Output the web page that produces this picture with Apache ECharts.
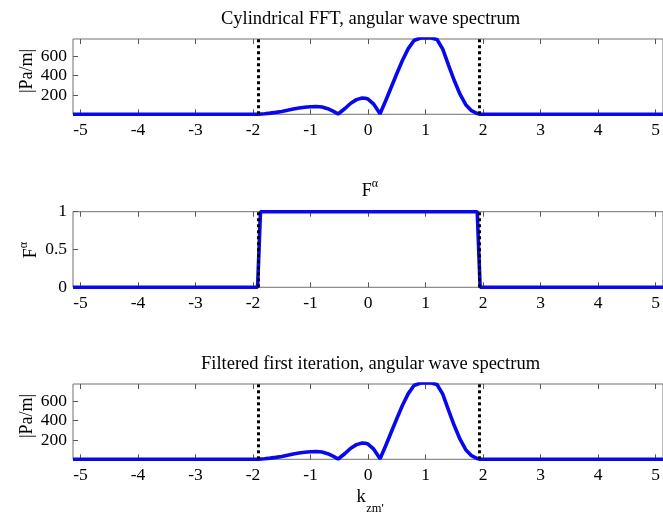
<!DOCTYPE html>
<html>
<head>
<meta charset="utf-8">
<script src="https://cdn.jsdelivr.net/npm/echarts@6/dist/echarts.min.js"></script>
<style>
html,body{margin:0;padding:0;background:#fff;}
#chart{width:663px;height:519px;}
</style>
</head>
<body>
<div id="chart"></div>
<script>
// ---- data ----
const kValues = [-5.13, -1.9, -1.8, -1.7, -1.6, -1.5, -1.4, -1.3, -1.2, -1.1, -1.0, -0.9, -0.8, -0.7, -0.6, -0.52,
  -0.4, -0.3, -0.2, -0.1, -0.05, 0.0, 0.1, 0.21, 0.3, 0.4, 0.5, 0.6, 0.7, 0.8, 0.9, 1.0, 1.1, 1.2, 1.3, 1.4,
  1.5, 1.6, 1.7, 1.8, 1.9, 1.95, 5.13];
const spectrumValues = [0, 2, 6, 12, 20, 30, 42, 54, 65, 73, 78, 80, 75, 58, 30, 3,
  60, 115, 152, 168, 166, 158, 105, 5, 130, 275, 420, 560, 680, 765, 788, 793, 790, 775, 675, 510,
  350, 208, 100, 38, 8, 0, 0];
const filteredValues = [0, 2, 6, 12, 20, 30, 42, 54, 65, 73, 78, 80, 75, 58, 30, 3,
  60, 115, 152, 168, 166, 158, 105, 5, 130, 275, 420, 560, 680, 765, 788, 793, 790, 775, 675, 510,
  350, 208, 100, 38, 8, 0, 0];
const filterK = [-5.13, -1.92, -1.87, 1.90, 1.95, 5.13];
const filterValues = [0, 0, 1, 1, 0, 0];
const cutoffs = [-1.9, 1.93];
const xTickValues = [-5, -4, -3, -2, -1, 0, 1, 2, 3, 4, 5];
const specTickLabels = [200, 400, 600];
const specTicks = [0, 200, 400, 600];
const filterTicks = [0, 0.5, 1];
const titles = ['Cylindrical FFT, angular wave spectrum', 'F^α', 'Filtered first iteration, angular wave spectrum'];

// ---- chart ----
const FONT = '"Liberation Serif", "Times New Roman", serif';
const BLUE = '#0808ee';
const chart = echarts.init(document.getElementById('chart'), null, {renderer: 'canvas'});

const grids = [
  {left: 73, top: 39, width: 595, height: 75.3},
  {left: 73, top: 211.7, width: 595, height: 75.6},
  {left: 73, top: 384, width: 595, height: 75.3}
].map(g => Object.assign(g, {show: true, borderColor: '#707070', borderWidth: 1, backgroundColor: '#fff'}));

const xAxes = [];
const yAxes = [];
for (let i = 0; i < 3; i++) {
  xAxes.push({
    type: 'value', gridIndex: i, position: 'bottom', min: -5.13, max: 5.13,
    axisLine: {show: false, onZero: false}, splitLine: {show: false},
    axisTick: {show: true, inside: true, length: 5, customValues: xTickValues, lineStyle: {color: '#555'}},
    axisLabel: {show: true, customValues: xTickValues, margin: 7, color: '#000', fontFamily: FONT, fontSize: 17.5}
  });
  xAxes.push({
    type: 'value', gridIndex: i, position: 'top', min: -5.13, max: 5.13,
    axisLine: {show: false, onZero: false}, splitLine: {show: false},
    axisTick: {show: true, inside: true, length: 5, customValues: xTickValues, lineStyle: {color: '#555'}},
    axisLabel: {show: false}
  });
  const isFilter = i === 1;
  yAxes.push({
    type: 'value', gridIndex: i, position: 'left', min: 0, max: isFilter ? 1 : 780,
    axisLine: {show: false, onZero: false}, splitLine: {show: false},
    axisTick: {show: true, inside: true, length: 5, customValues: isFilter ? filterTicks : specTicks, lineStyle: {color: '#555'}},
    axisLabel: {show: true, customValues: isFilter ? filterTicks : specTickLabels, margin: 6, color: '#000', fontFamily: FONT, fontSize: 17.5}
  });
}

function zip(a, b) { return a.map((v, i) => [v, b[i]]); }

function cutoffLines() {
  return {
    silent: true, symbol: ['none', 'none'], animation: false,
    label: {show: false},
    lineStyle: {type: 'dotted', color: '#000', width: 3},
    data: cutoffs.map(c => ({xAxis: c}))
  };
}

const series = [
  {type: 'line', xAxisIndex: 0, yAxisIndex: 0, data: zip(kValues, spectrumValues), showSymbol: false,
   lineStyle: {color: BLUE, width: 3.6}, clip: true, markLine: cutoffLines(), z: 3},
  {type: 'line', xAxisIndex: 2, yAxisIndex: 1, data: zip(filterK, filterValues), showSymbol: false,
   lineStyle: {color: BLUE, width: 3.6}, clip: false, markLine: cutoffLines(), z: 3},
  {type: 'line', xAxisIndex: 4, yAxisIndex: 2, data: zip(kValues, filteredValues), showSymbol: false,
   lineStyle: {color: BLUE, width: 3.6}, clip: true, markLine: cutoffLines(), z: 3}
];

const supRich = {
  F: {fontFamily: FONT, fontSize: 18, lineHeight: 22, verticalAlign: 'bottom', fill: '#000', color: '#000'},
  a: {fontFamily: FONT, fontSize: 12, lineHeight: 14, verticalAlign: 'top', fill: '#000', color: '#000'}
};

function txt(text, x, y, size, rot) {
  return {type: 'text', x: x, y: y, rotation: rot || 0, silent: true, z: 10,
    style: {text: text, font: size + 'px ' + FONT, fill: '#000', textAlign: 'center', textVerticalAlign: 'middle'}};
}
function supTxt(x, y, rot) {
  return {type: 'text', x: x, y: y, rotation: rot || 0, silent: true, z: 10,
    style: {text: '{F|F}{a|α}', rich: supRich, font: '18px ' + FONT, fill: '#000', textAlign: 'center', textVerticalAlign: 'middle'}};
}

const graphic = [
  txt(titles[0], 370.5, 19, 18.5),
  supTxt(370, 189),
  txt(titles[2], 370.5, 364, 18.5),
  txt('|Pa/m|', 27, 71, 18, Math.PI / 2),
  supTxt(29, 250, Math.PI / 2),
  txt('|Pa/m|', 27, 416, 18, Math.PI / 2),
  txt('k', 361, 497, 18.5),
  txt("zm'", 375, 509, 12.5)
];

chart.setOption({
  animation: false,
  backgroundColor: '#fff',
  grid: grids,
  xAxis: xAxes,
  yAxis: yAxes,
  series: series,
  graphic: graphic
});
</script>
</body>
</html>
